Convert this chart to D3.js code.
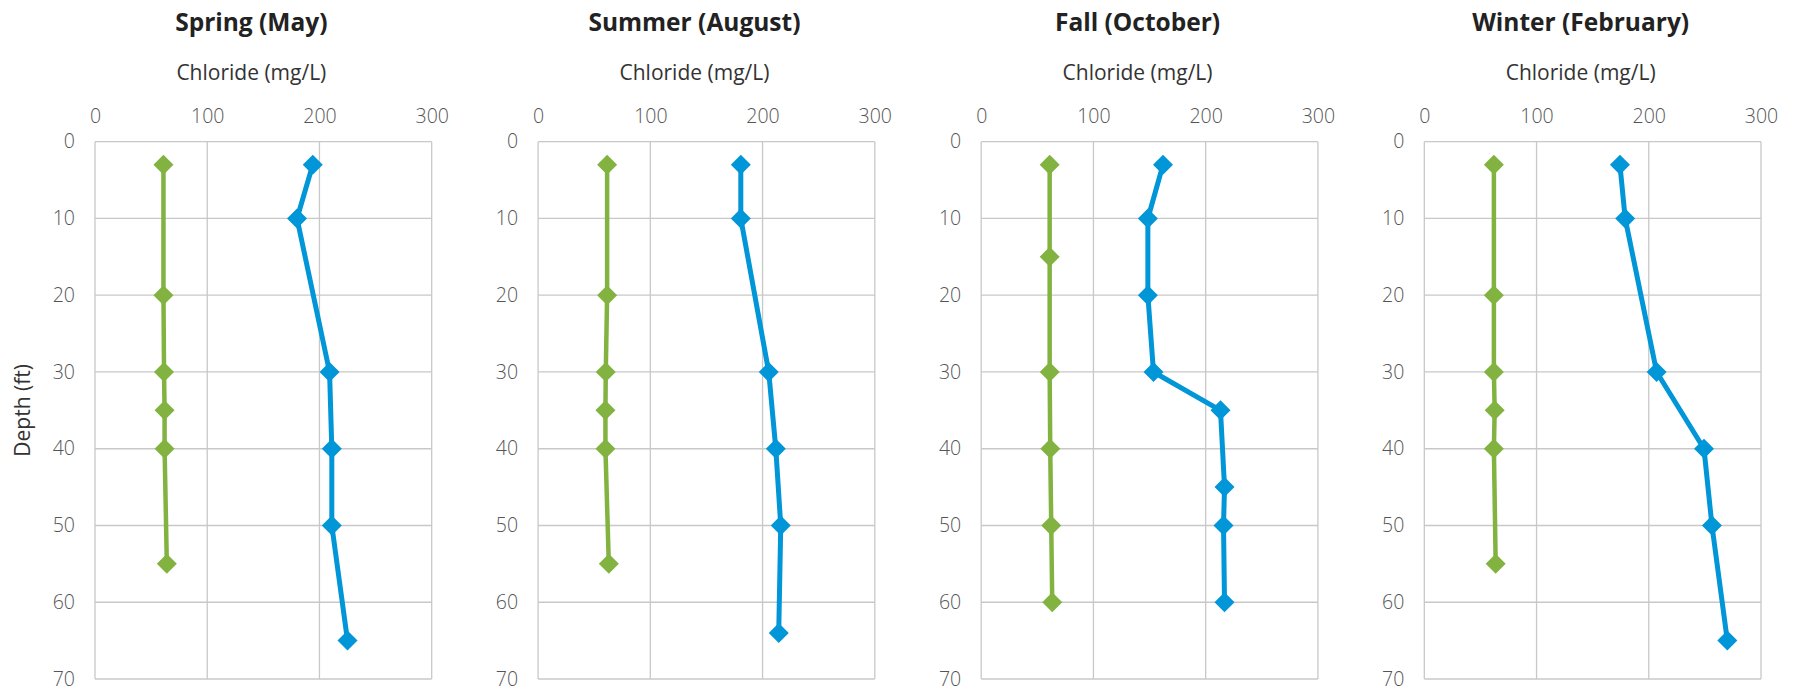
<!DOCTYPE html>
<html>
<head>
<meta charset="utf-8">
<script src="https://cdn.jsdelivr.net/npm/d3@7/dist/d3.min.js"></script>
<style>
  html, body { margin: 0; padding: 0; background: #fff; }
  svg text { font-family: "Open Sans", "Noto Sans", sans-serif; }
</style>
</head>
<body>
<div id="chart"></div>
<script>
// panel titles, in order left to right
const panelTitles = ['Spring (May)', 'Summer (August)', 'Fall (October)', 'Winter (February)'];

const xTicks = [0, 100, 200, 300];
const yTicks = [0, 10, 20, 30, 40, 50, 60, 70];

// green series (depth in ft, chloride in mg/L)
const greenDepths = [
  [3, 20, 30, 35, 40, 55],
  [3, 20, 30, 35, 40, 55],
  [3, 15, 30, 40, 50, 60],
  [3, 20, 30, 35, 40, 55]
];
const greenValues = [
  [61, 61, 61.5, 62, 62, 64],
  [61.5, 61.5, 60.3, 60, 60, 63],
  [61, 61, 61, 61.5, 62.4, 63.3],
  [62, 62, 62, 62.7, 62, 63.6]
];

// blue series
const blueDepths = [
  [3, 10, 30, 40, 50, 65],
  [3, 10, 30, 40, 50, 64],
  [3, 10, 20, 30, 35, 45, 50, 60],
  [3, 10, 30, 40, 50, 65]
];
const blueValues = [
  [194, 180, 209, 211, 211, 225],
  [180.6, 180.6, 205.5, 211.8, 216.2, 214.4],
  [162, 148.5, 148.5, 153.5, 213.2, 216.8, 215.9, 216.8],
  [174.3, 179, 207, 249.2, 256.3, 270]
];

const W = 1797, H = 691;
const plotLeft = 95, plotStep = 443.1, plotW = 336.7;
const plotTop = 141.7, plotH = 537.3;
const gridColor = '#c8c8c8';
const greenColor = '#82b341';
const blueColor = '#0096d8';

const svg = d3.select('#chart').append('svg')
  .attr('width', W)
  .attr('height', H);

svg.append('rect').attr('width', W).attr('height', H).attr('fill', '#fff');

const x = d3.scaleLinear().domain([0, 300]).range([0, plotW]);
const y = d3.scaleLinear().domain([0, 70]).range([0, plotH]);

const line = d3.line()
  .x(d => x(d.v))
  .y(d => y(d.d));

const diamond = d3.symbol().type(d3.symbolSquare).size(200);

panelTitles.forEach((title, i) => {
  const g = svg.append('g')
    .attr('transform', `translate(${plotLeft + i * plotStep},${plotTop})`);

  // grid
  g.selectAll('.vgrid').data(xTicks).enter().append('line')
    .attr('x1', d => x(d)).attr('x2', d => x(d))
    .attr('y1', 0).attr('y2', plotH)
    .attr('stroke', gridColor).attr('stroke-width', 1.3);
  g.selectAll('.hgrid').data(yTicks).enter().append('line')
    .attr('x1', 0).attr('x2', plotW)
    .attr('y1', d => y(d)).attr('y2', d => y(d))
    .attr('stroke', gridColor).attr('stroke-width', 1.3);

  // axes labels only
  const xAxis = g.append('g')
    .call(d3.axisTop(x).tickValues(xTicks).tickSize(0).tickPadding(19));
  const yAxis = g.append('g')
    .call(d3.axisLeft(y).tickValues(yTicks).tickSize(0).tickPadding(20));
  [xAxis, yAxis].forEach(a => {
    a.select('.domain').remove();
    a.selectAll('text')
      .attr('font-family', '"Open Sans", sans-serif')
      .style('font-size', '19.5px')
      .style('font-weight', 300)
      .attr('fill', '#555');
  });

  // titles
  g.append('text')
    .attr('x', plotW / 2 - 12)
    .attr('y', 31 - plotTop)
    .attr('text-anchor', 'middle')
    .style('font-size', '24.5px')
    .style('font-weight', 700)
    .attr('fill', '#222')
    .text(title);

  g.append('text')
    .attr('x', plotW / 2 - 12)
    .attr('y', 80 - plotTop)
    .attr('text-anchor', 'middle')
    .style('font-size', '21px')
    .attr('fill', '#333')
    .text('Chloride (mg/L)');

  const series = [
    { color: greenColor, width: 4.5, pts: greenDepths[i].map((d, k) => ({ d: d, v: greenValues[i][k] })) },
    { color: blueColor, width: 5, pts: blueDepths[i].map((d, k) => ({ d: d, v: blueValues[i][k] })) }
  ];

  series.forEach(s => {
    g.append('path')
      .datum(s.pts)
      .attr('d', line)
      .attr('fill', 'none')
      .attr('stroke', s.color)
      .attr('stroke-width', s.width)
      .attr('stroke-linejoin', 'round');
    g.selectAll(null).data(s.pts).enter().append('path')
      .attr('d', diamond)
      .attr('transform', d => `translate(${x(d.v)},${y(d.d)}) rotate(45)`)
      .attr('fill', s.color);
  });
});

// y axis title (first panel only)
svg.append('text')
  .attr('transform', `translate(30,${plotTop + plotH / 2}) rotate(-90)`)
  .attr('text-anchor', 'middle')
  .style('font-size', '21px')
  .attr('fill', '#333')
  .text('Depth (ft)');
</script>
</body>
</html>
